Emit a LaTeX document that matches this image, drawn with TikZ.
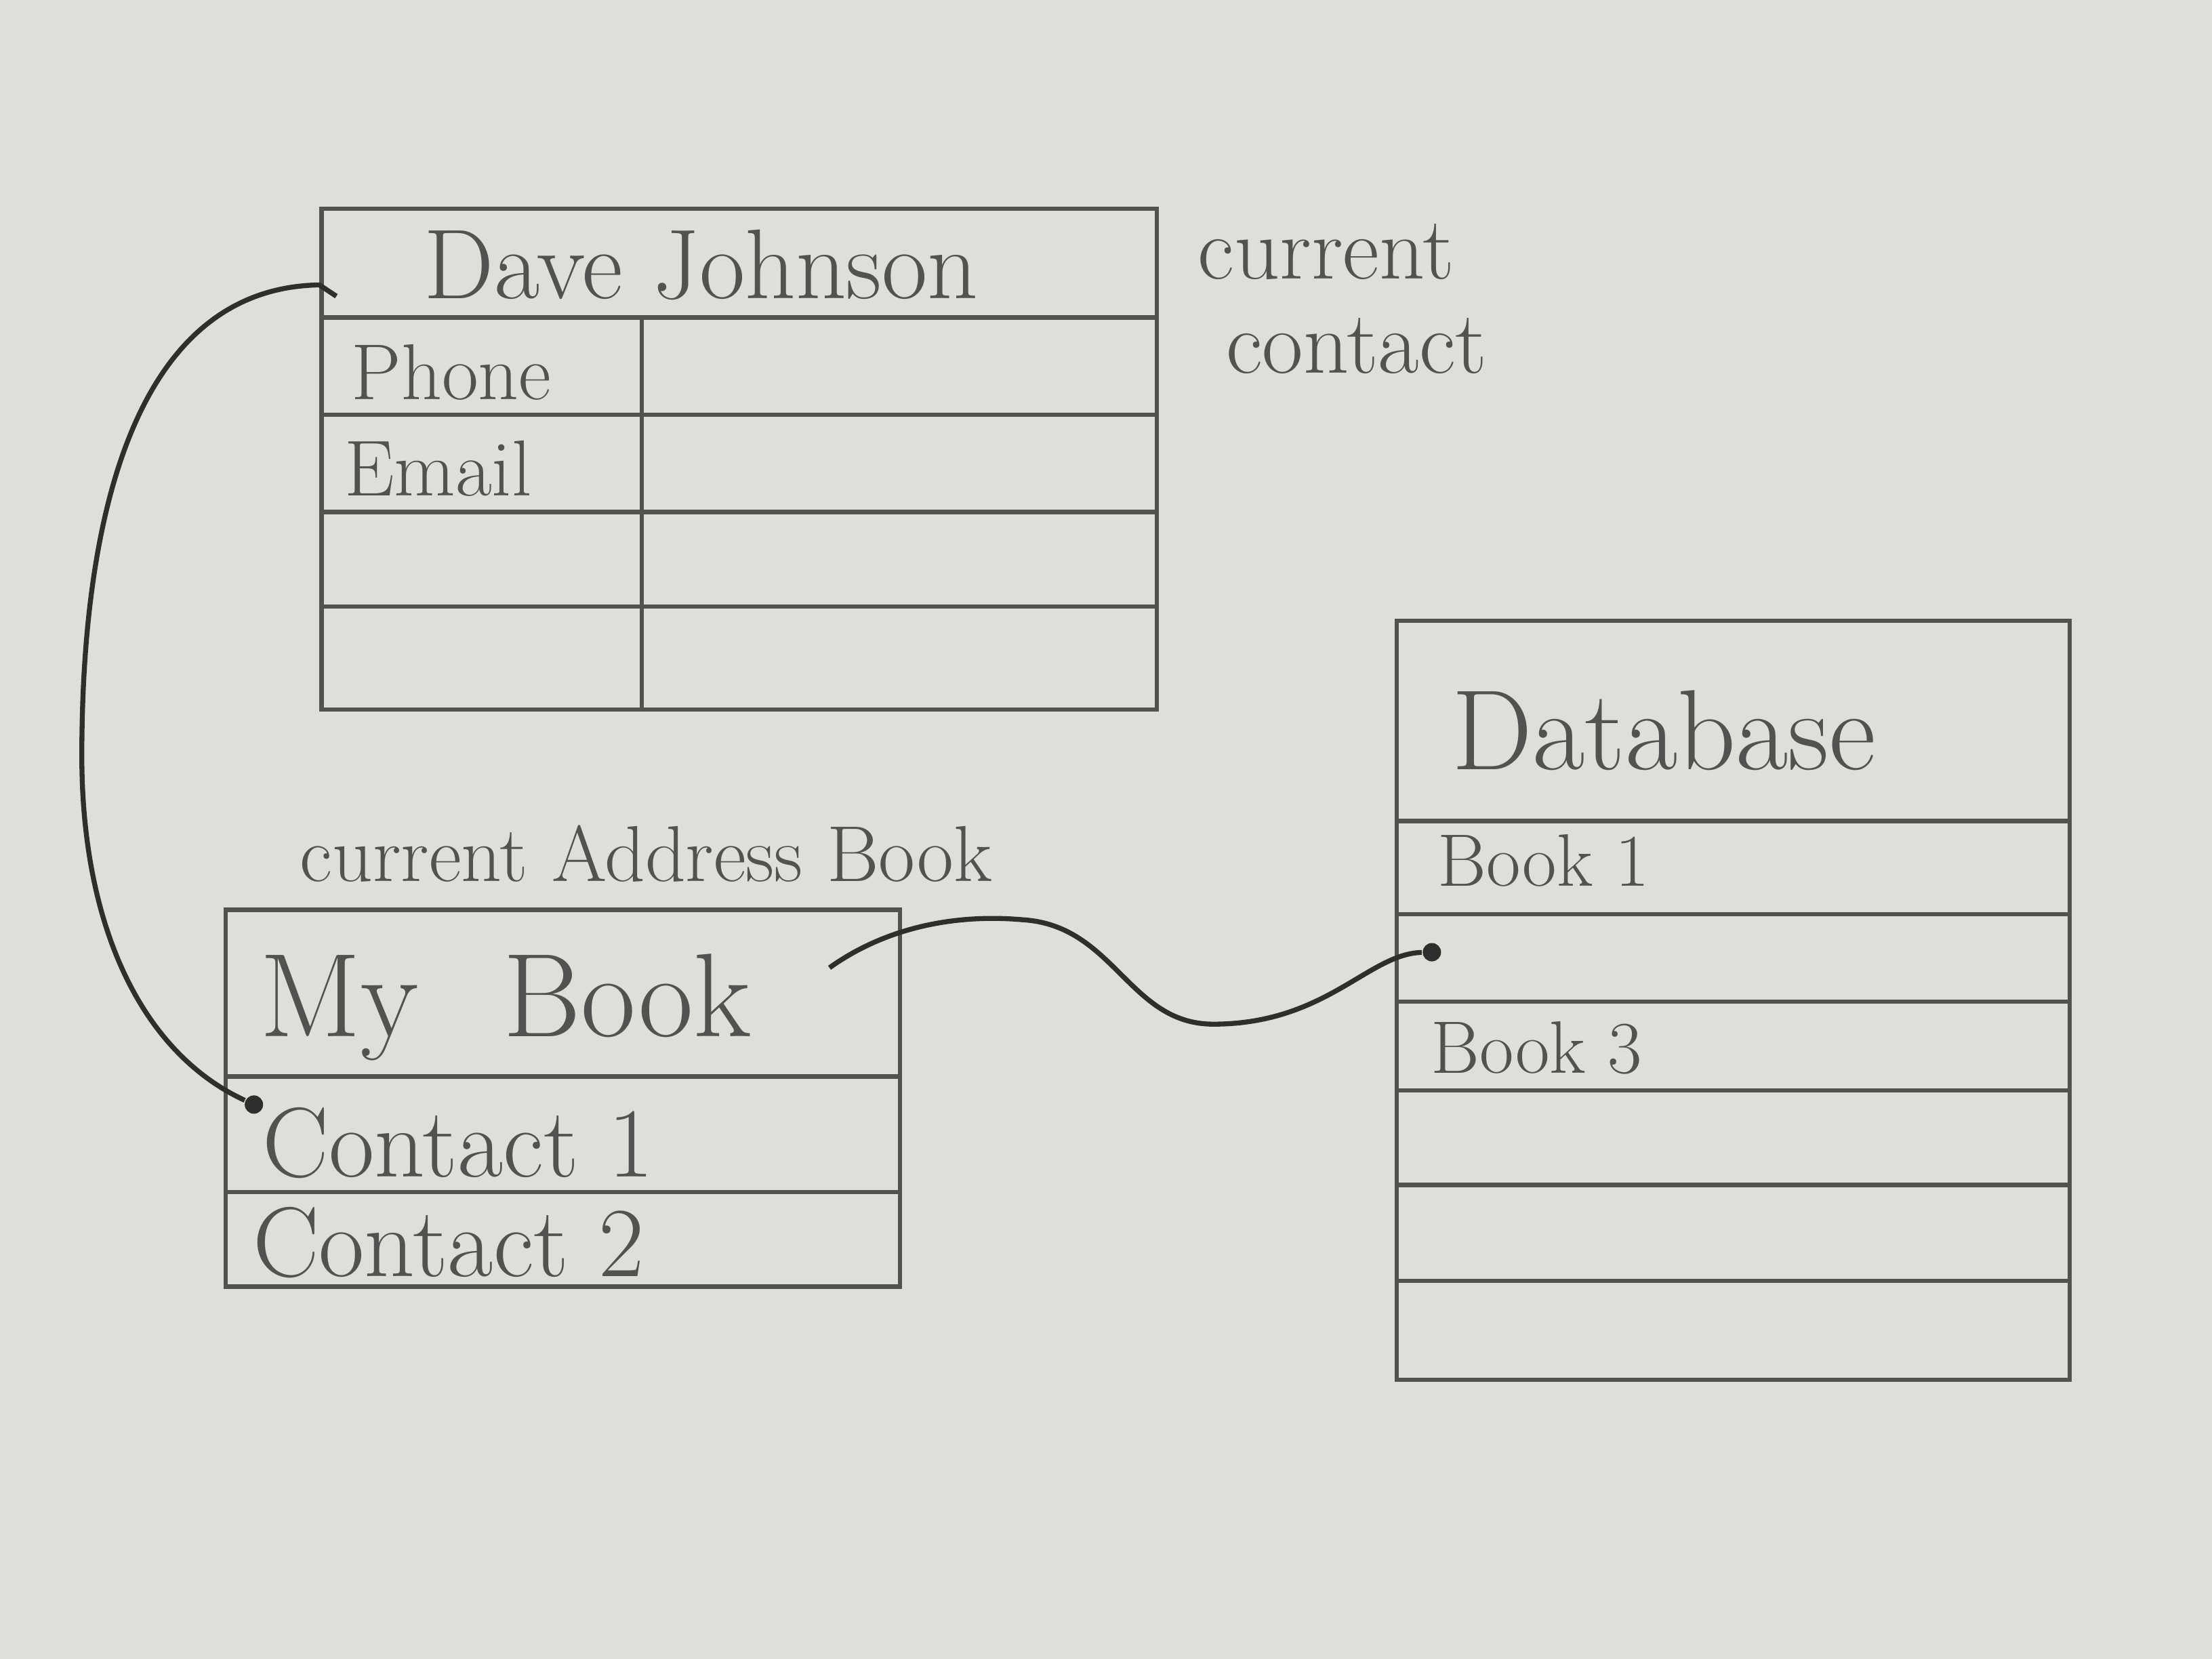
\documentclass[tikz,border=0pt]{standalone}
\usepackage{tikz}
\usepackage{xcolor}
\usetikzlibrary{positioning,calc}
\definecolor{paper}{RGB}{224,222,216}
\definecolor{pencil}{RGB}{84,82,80}
\definecolor{graphite}{RGB}{48,46,44}

\begin{document}
\begin{tikzpicture}[
  box/.style={draw=pencil, line width=0.9pt, inner sep=0pt},
  rule/.style={draw=pencil, line width=0.9pt},
  label/.style={text=pencil, inner sep=1pt},
  link/.style={draw=graphite, line width=1pt},
  pin/.style={circle, fill=graphite, inner sep=0pt, minimum size=0.13cm}
]
\fill[paper] (0,0) rectangle (15.68,11.76);
\useasboundingbox (0,0) rectangle (15.68,11.76);

% Current contact card
\node[box, minimum width=5.92cm, minimum height=3.55cm] (card) at (5.24,8.505) {};
\foreach \y in {9.51,8.82,8.13,7.46}
  \draw[rule] (card.west |- 0,\y) -- (card.east |- 0,\y);
\draw[rule] (4.55,9.51) -- (4.55,6.73);
\node[label, font=\fontsize{20}{24}\selectfont] (dave) at (4.97,9.88) {Dave Johnson};
\node[label, anchor=west, font=\fontsize{16}{19}\selectfont] (phone) at (2.45,9.12) {Phone};
\node[label, anchor=west, font=\fontsize{16}{19}\selectfont] (email) at (2.40,8.44) {Email};
\node[label, anchor=west, align=left, font=\fontsize{18}{19}\selectfont] (curcontact) at (8.45,9.64) {current\\\hspace{0.2cm}contact};

% Current address book
\node[label, font=\fontsize{16}{19}\selectfont] (curbook) at (4.58,5.71) {current Address Book};
\node[box, minimum width=4.78cm, minimum height=2.67cm] (mybook) at (3.99,3.975) {};
\foreach \y in {4.13,3.31}
  \draw[rule] (mybook.west |- 0,\y) -- (mybook.east |- 0,\y);
\node[label, anchor=west, font=\fontsize{24}{28}\selectfont] (mytitle) at (1.80,4.62) {My\hspace{0.6cm}Book};
\node[label, anchor=west, font=\fontsize{20}{24}\selectfont] (contact1) at (1.82,3.66) {Contact 1};
\node[label, anchor=west, font=\fontsize{20}{24}\selectfont] (contact2) at (1.75,2.95) {Contact 2};

% Database of books
\node[box, minimum width=4.77cm, minimum height=5.38cm] (db) at (12.285,4.67) {};
\foreach \y in {5.94,5.28,4.66,4.03,3.36,2.68}
  \draw[rule] (db.west |- 0,\y) -- (db.east |- 0,\y);
\node[label, anchor=west, font=\fontsize{23}{27}\selectfont] (dbtitle) at (10.25,6.58) {Database};
\node[label, anchor=west, font=\fontsize{15}{18}\selectfont] (book1) at (10.15,5.66) {Book 1};
\node[label, anchor=west, font=\fontsize{15}{18}\selectfont] (book3) at (10.10,4.33) {Book 3};

% Links
\node[pin] (mbpin) at (1.80,3.93) {};
\node[pin] (dbpin) at (10.15,5.01) {};
\coordinate (cardin) at (card.west |- 0,9.74);
\coordinate (mbout) at (5.88,4.90);
\draw[link] (mbpin) .. controls (1.0,4.3) and (0.58,5.2) .. (0.58,6.4)
  .. controls (0.58,8.2) and (1.0,9.72) .. (cardin) -- ++(0.12,-0.08);
\draw[link] (mbout) .. controls (6.3,5.2) and (6.8,5.28) .. (7.25,5.24)
  .. controls (7.9,5.2) and (8.0,4.5) .. (8.6,4.5)
  .. controls (9.4,4.5) and (9.7,5.0) .. (dbpin);
\end{tikzpicture}
\end{document}
